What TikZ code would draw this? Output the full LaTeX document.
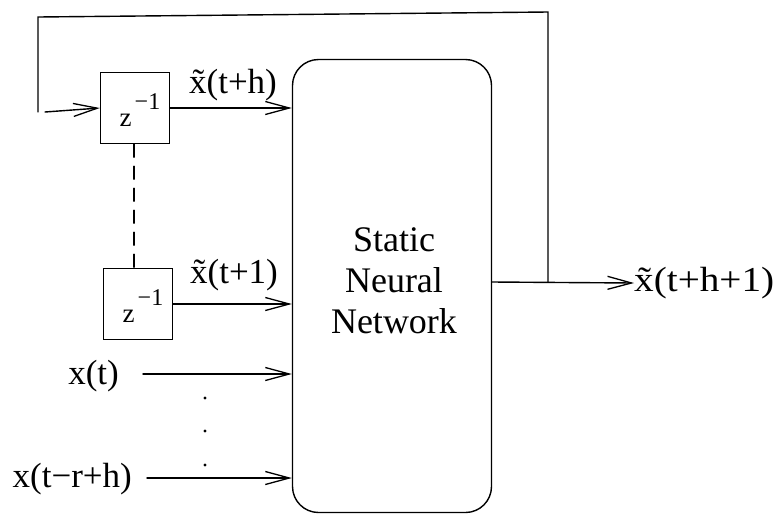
\documentclass[tikz,border=0pt]{standalone}
\usepackage{fontspec}
\setmainfont{Liberation Serif}
\usetikzlibrary{arrows.meta,calc}
\begin{document}
\begin{tikzpicture}[x=1pt,y=-1pt,
  wire/.style={line width=1.4pt,line cap=round},
  arr/.style={wire,-{Straight Barb[length=24pt,width=13pt,line width=1.3pt]}},
  delay/.style={draw,line width=1.4pt,minimum width=69pt,minimum height=71pt,inner sep=0pt},
  lbl/.style={inner sep=0pt,font=\fontsize{35}{38}\selectfont},
  netbox/.style={draw,line width=1.4pt,rounded corners=26pt,minimum width=199pt,minimum height=453pt,inner sep=0pt}]
\useasboundingbox (0,0) rectangle (778,515);

% static network block
\node[netbox] (nn) at (392,286) {};
\node[align=center,font=\fontsize{36}{41}\selectfont] (nntxt) at (394,281) {Static\\Neural\\Network};

% delay elements
\newcommand{\zinv}{\fontsize{27}{27}\selectfont z\hspace{3pt}\raisebox{17pt}{\fontsize{24}{24}\selectfont −1}}
\node[delay] (zt) at (135,108) {};
\node[delay] (zb) at (138,304) {};
\node[inner sep=0pt,anchor=base] (zttxt) at (140,126) {\zinv};
\node[inner sep=0pt,anchor=base] (zbtxt) at (143,322) {\zinv};
\draw[wire,dashed,dash pattern=on 13pt off 9pt] (zt.south -| 134,0) -- (zb.north -| 134,0);

% fed-back inputs
\draw[arr] (zt.east) -- (nn.west |- zt.east);
\node[lbl,anchor=south] (lh) at (233,101) {\~x(t+h)};
\draw[arr] (zb.east) -- (nn.west |- zb.east);
\node[lbl,anchor=south] (l1) at (234,291) {\~x(t+1)};

% external inputs
\node[lbl,anchor=east] (xt) at (119,376) {x(t)};
\draw[arr] ($(xt.east)+(24,-2)$) -- (nn.west |- 0,374);
\node[lbl,anchor=east] (xr) at (132,479) {x(t−r+h)};
\draw[arr] ($(xr.east)+(15,-1)$) -- (nn.west |- 0,478);
\foreach \yy in {398,431,465} \fill (205,\yy) circle (1.6pt);

% output and feedback loop
\node[lbl,anchor=west,xscale=1.12] (out) at (634,283) {\~x(t+h+1)};
\coordinate (tap) at (548,282);
\draw[arr] (nn.east |- tap) -- (out.west);
\coordinate (tr) at (548,12);
\coordinate (tl) at (38,17);
\coordinate (bl) at (38,112);
\draw[wire] (tap) -- (tr) -- (tl) -- (bl);
\draw[arr] (45,112) -- (zt.west);
\end{tikzpicture}
\end{document}
